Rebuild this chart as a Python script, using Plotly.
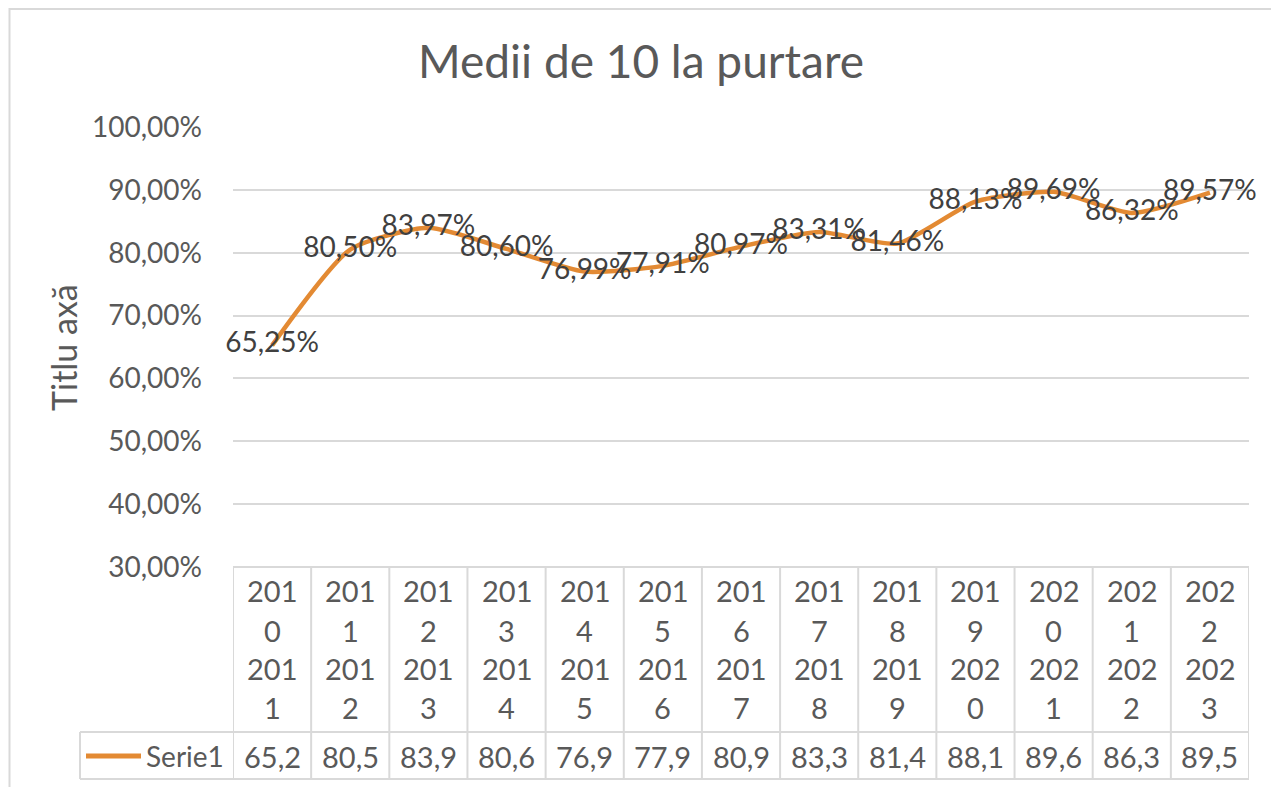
import plotly.graph_objects as go

# ---------------- data ----------------
categories = ["2010 2011", "2011 2012", "2012 2013", "2013 2014", "2014 2015",
              "2015 2016", "2016 2017", "2017 2018", "2018 2019", "2019 2020",
              "2020 2021", "2021 2022", "2022 2023"]
values = [0.6525, 0.8050, 0.8397, 0.8060, 0.7699, 0.7791, 0.8097,
          0.8331, 0.8146, 0.8813, 0.8969, 0.8632, 0.8957]
series_name = "Serie1"
chart_title = "Medii de 10 la purtare"
y_title = "Titlu axă"
y_ticks = [0.3, 0.4, 0.5, 0.6, 0.7, 0.8, 0.9, 1.0]

# ---------------- style ----------------
W, H = 1279, 787
OFF = 8  # page body margin offset
# target plot area in screen pixels
SX0, SX1, SY0, SY1 = 233, 1249, 127, 567
L = SX0 - OFF
T = SY0 - OFF
R = W - (SX1 - OFF)
B = H - (SY1 - OFF)
PH = SY1 - SY0
PW = SX1 - SX0
TXT = "#595959"
LBL = "#404040"
GRID = "#D9D9D9"
LINE = "#E38A33"
FONT = "Lato"
FS = 28
FT = 29


def py(pix):  # screen pixel -> paper y
    return 1 - (pix - SY0) / PH


def px(pix):  # screen pixel -> paper x
    return (pix - SX0) / PW


fig = go.Figure()
fig.add_trace(go.Scatter(
    x=categories, y=values, mode="lines+text",
    line=dict(color=LINE, width=4.5, shape="spline", smoothing=0.6),
    texttemplate="%{y:.2%}", textposition="middle center",
    textfont=dict(family=FONT, size=FS, color=LBL),
    cliponaxis=False, showlegend=False, name=series_name,
))

shapes = []
annotations = []
n = len(categories)

# table grid
y_top, y_mid, y_bot = py(567), py(732), py(779)
for i in range(n + 1):
    shapes.append(dict(type="line", xref="x", yref="paper",
                       x0=i - 0.5, x1=i - 0.5, y0=y_top, y1=y_bot,
                       line=dict(color=GRID, width=2)))
shapes.append(dict(type="line", xref="x", yref="paper", x0=-0.5, x1=n - 0.5,
                   y0=y_top, y1=y_top, line=dict(color=GRID, width=2)))
shapes.append(dict(type="line", xref="paper", yref="paper", x0=px(80), x1=1,
                   y0=y_mid, y1=y_mid, line=dict(color=GRID, width=2)))
shapes.append(dict(type="line", xref="paper", yref="paper", x0=px(80), x1=1,
                   y0=y_bot, y1=y_bot, line=dict(color=GRID, width=2)))
shapes.append(dict(type="line", xref="paper", yref="paper", x0=px(80), x1=px(80),
                   y0=y_mid, y1=y_bot, line=dict(color=GRID, width=2)))
# legend key
shapes.append(dict(type="line", xref="paper", yref="paper", x0=px(86), x1=px(141),
                   y0=py(756), y1=py(756), line=dict(color=LINE, width=5)))
# outer chart border
shapes.append(dict(type="rect", xref="paper", yref="paper",
                   x0=px(9.5), x1=px(1275.5), y0=py(800), y1=py(9),
                   line=dict(color=GRID, width=2)))

line_y = [590, 630, 668, 707]
for cat, v in zip(categories, values):
    parts = []
    for w in cat.split(" "):
        parts += [w[k:k + 3] for k in range(0, len(w), 3)]
    for part, yy in zip(parts, line_y):
        annotations.append(dict(x=cat, xref="x", y=py(yy), yref="paper", text=part,
                                showarrow=False, xanchor="center", yanchor="middle",
                                font=dict(family=FONT, size=FT, color=TXT)))
    shown = f"{v * 100:.2f}".replace(".", ",")[:4]
    annotations.append(dict(x=cat, xref="x", y=py(756), yref="paper", text=shown,
                            showarrow=False, xanchor="center", yanchor="middle",
                            font=dict(family=FONT, size=FT, color=TXT)))

annotations.append(dict(x=px(226), xref="paper", y=py(756), yref="paper",
                        text=series_name, showarrow=False, xanchor="right",
                        yanchor="middle", font=dict(family=FONT, size=FS, color=TXT)))
annotations.append(dict(x=px(63), xref="paper", y=py(348), yref="paper",
                        text=y_title, textangle=-90, showarrow=False,
                        xanchor="center", yanchor="middle",
                        font=dict(family=FONT, size=34, color=TXT)))

fig.update_layout(
    width=W, height=H,
    margin=dict(l=L, r=R, t=T, b=B),
    paper_bgcolor="white", plot_bgcolor="white",
    separators=",.",
    title=dict(text=chart_title, x=(641 - OFF) / W, xref="container", xanchor="center",
               y=1 - (62 - OFF) / H, yref="container", yanchor="middle",
               font=dict(family=FONT, size=46, color=TXT)),
    xaxis=dict(type="category", range=[-0.5, n - 0.5], showticklabels=False,
               showgrid=False, zeroline=False, showline=False, fixedrange=True),
    yaxis=dict(range=[0.3, 1.0], tickvals=y_ticks, tickformat=".2%",
               showgrid=True, gridcolor=GRID, gridwidth=2, zeroline=False,
               showline=False, ticklabelstandoff=30,
               tickfont=dict(family=FONT, size=FS, color=TXT)),
    shapes=shapes, annotations=annotations,
)

fig.write_html("out.html")
